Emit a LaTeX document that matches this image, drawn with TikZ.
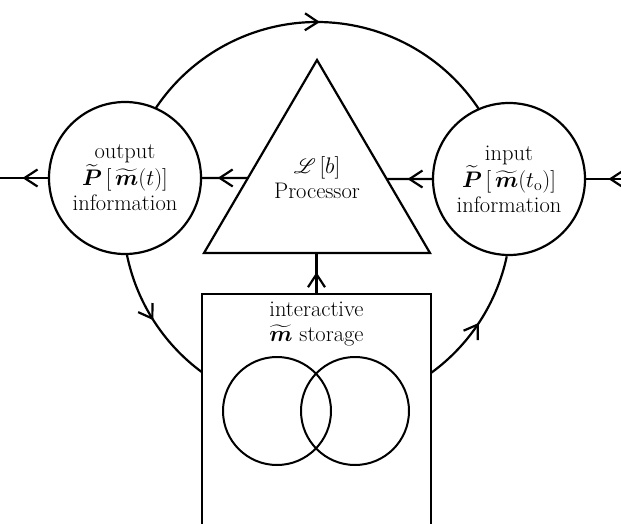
\documentclass[tikz,border=0pt]{standalone}
\usepackage{fix-cm}
\usepackage{amsmath}
\usepackage{mathrsfs}
\usetikzlibrary{calc,arrows.meta,decorations.markings}

\tikzset{
  flow/.style={line width=2.2pt},
  midarrow/.style={flow, decoration={markings, mark=at position #1 with {\arrow{Straight Barb[length=13pt,width=17pt]}}}, postaction={decorate}},
  info/.style={circle, draw, flow, minimum size=152pt, inner sep=0pt, align=center, font=\fontsize{22.5}{25}\selectfont},
  lbl/.style={align=center, font=\fontsize{22.5}{25}\selectfont},
}

\begin{document}
\begin{tikzpicture}[x=1pt,y=1pt]
\useasboundingbox (0,0) rectangle (621,523);
\clip (0,0) rectangle (621,523);

% centre of the big loop
\coordinate (C) at (317,307);

% processor triangle
\coordinate (apex) at (317,463);
\coordinate (bl) at (204,270);
\coordinate (br) at (430,270);
\draw[flow, line join=miter] (bl) -- (apex) -- (br) -- cycle;
\node[lbl] (proc) at (317,345) {$\mathscr{L}\,[b]$\\Processor};

\node[info] (out) at (125,345) {output\\$\widetilde{\boldsymbol P}\,[\,\widetilde{\boldsymbol m}(t)]$\\information};
\node[info] (in) at (509,344) {input\\$\widetilde{\boldsymbol P}\,[\,\widetilde{\boldsymbol m}(t_{\mathrm o})]$\\information};

% storage
\node[draw, flow, minimum width=229pt, minimum height=260pt, inner sep=0pt, anchor=north] (store) at (316.5,230) {};
\node[lbl] (storetxt) at (316.5,199) {interactive\\$\widetilde{\boldsymbol m}$ storage};
\node[circle, draw, line width=2pt, minimum size=108pt, inner sep=0pt] (mA) at (277,112) {};
\node[circle, draw, line width=2pt, minimum size=108pt, inner sep=0pt] (mB) at (355,112) {};

% connectors
\coordinate (lend) at (0,345);
\coordinate (rend) at (621,344);
\path (out.west) edge[midarrow=0.53] (lend);
\path ($(bl)!0.389!(apex)$) edge[midarrow=0.66] (out.east);
\path (in.west) edge[midarrow=0.54] ($(br)!0.383!(apex)$);
\path (rend) edge[midarrow=0.36] (in.east);
\path (store.north) edge[midarrow=0.52] (store.north |- bl);

% loop arcs
\draw[midarrow=0.505] ($(C)+(146.2:194)$) arc[start angle=146.2, end angle=33.2, radius=194];
\draw[midarrow=0.5] ($(C)+(191.4:194)$) arc[start angle=191.4, end angle=233.6, radius=194];
\draw[midarrow=0.49] ($(C)+(-54:194)$) arc[start angle=-54, end angle=-12, radius=194];
\end{tikzpicture}
\end{document}
